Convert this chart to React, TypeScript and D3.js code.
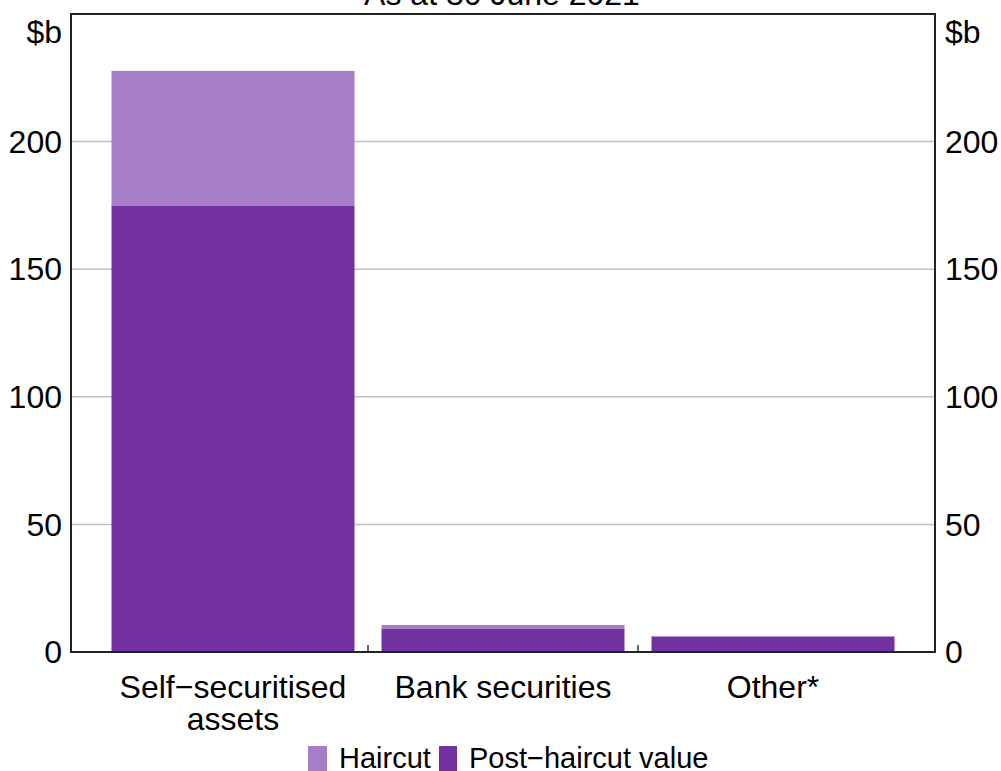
import React from "react";
import * as d3 from "d3";

const categories = ["Self\u2212securitised|assets", "Bank securities", "Other*"];
const postHaircut = [175, 9.0, 6.0];
const haircut = [52.7, 1.6, 0.3];
const yTicks = [0, 50, 100, 150, 200];
const seriesNames = ["Haircut", "Post\u2212haircut value"];
const colors = { haircut: "#A67EC8", post: "#7330A0" };

const W = 1001, H = 771;
const left = 71, right = 935, top = 14, bottom = 652;
const FONT = "Arial, 'Liberation Sans', sans-serif";

export default function App() {
  const x = d3.scaleLinear().domain([-0.6, 2.6]).range([left, right]);
  const y = d3.scaleLinear().domain([0, 250]).range([bottom, top]);
  const bw = x(0.9) - x(0);
  const fs = 32;
  const lfs = 29;
  return (
    <svg width={W} height={H} style={{ position: "absolute", left: 0, top: 0 }} fontFamily={FONT}>
      <rect width={W} height={H} fill="#fff" />
      <text x={502} y={5} fontSize={fs} textAnchor="middle" fill="#000">As at 30 June 2021</text>
      {yTicks.filter(t => t > 0).map(t => (
        <line key={t} x1={left} x2={right} y1={y(t)} y2={y(t)} stroke="#c0c0c0" strokeWidth={1.5} />
      ))}
      {categories.map((c, i) => (
        <g key={c}>
          <rect x={x(i) - bw / 2} width={bw} y={y(postHaircut[i])} height={y(0) - y(postHaircut[i])} fill={colors.post} />
          <rect x={x(i) - bw / 2} width={bw} y={y(postHaircut[i] + haircut[i])} height={y(postHaircut[i]) - y(postHaircut[i] + haircut[i])} fill={colors.haircut} />
        </g>
      ))}
      {[0.5, 1.5].map(t => (
        <line key={t} x1={x(t)} x2={x(t)} y1={bottom} y2={bottom - 7} stroke="#333" strokeWidth={1.5} />
      ))}
      <rect x={left} y={top} width={right - left} height={bottom - top} fill="none" stroke="#222" strokeWidth={2} />
      {yTicks.map(t => (
        <g key={t}>
          <text x={left - 9} y={y(t)} dy="0.35em" fontSize={fs} textAnchor="end" fill="#000">{t}</text>
          <text x={right + 10} y={y(t)} dy="0.35em" fontSize={fs} textAnchor="start" fill="#000">{t}</text>
        </g>
      ))}
      <text x={left - 9} y={32} dy="0.35em" fontSize={fs} textAnchor="end" fill="#000">$b</text>
      <text x={right + 10} y={32} dy="0.35em" fontSize={fs} textAnchor="start" fill="#000">$b</text>
      {categories.map((c, i) => (
        <text key={c} x={x(i)} y={698} fontSize={fs} textAnchor="middle" fill="#000">
          {c.split("|").map((line, j) => (
            <tspan key={j} x={x(i)} dy={j === 0 ? 0 : 32}>{line}</tspan>
          ))}
        </text>
      ))}
      <g>
        <rect x={308} y={746} width={19} height={26} fill={colors.haircut} />
        <text x={339} y={768} fontSize={lfs} fill="#000">{seriesNames[0]}</text>
        <rect x={439} y={746} width={18} height={26} fill={colors.post} />
        <text x={469} y={768} fontSize={lfs} fill="#000">{seriesNames[1]}</text>
      </g>
    </svg>
  );
}
